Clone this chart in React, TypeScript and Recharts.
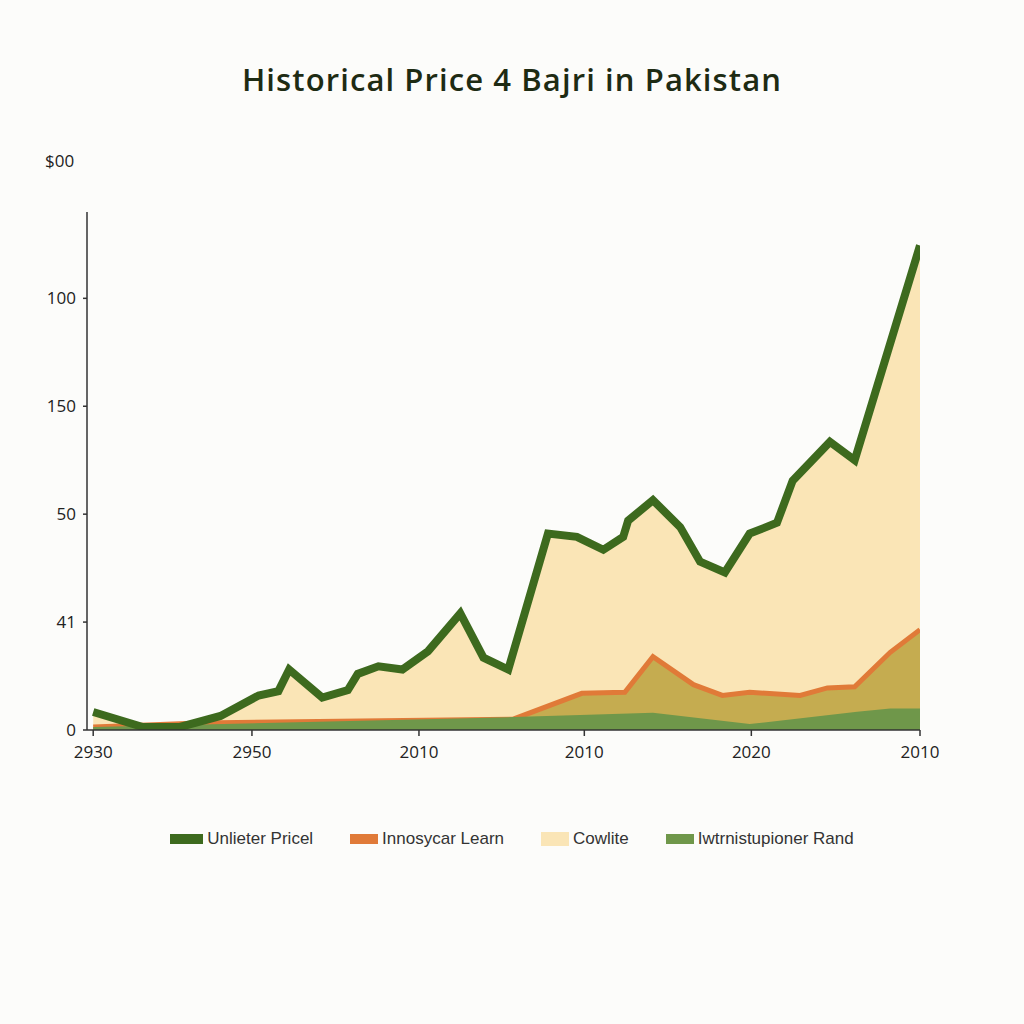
import React from "react";
import { ComposedChart, Area, Line, XAxis, YAxis } from "recharts";

// x positions are on a 0..100 scale across the plot
const priceX = [0, 6, 10.5, 15.4, 20, 22.4, 23.7, 27.7, 30.8, 32, 34.5, 37.4, 40.5, 44.4, 47.2, 50.2, 55, 58.5, 61.7, 64.1, 64.7, 67.7, 71, 73.4, 76.4, 79.4, 82.7, 84.6, 89.1, 92.1, 100];
const price = [16.7, 2.8, 2.8, 13, 32, 36, 56, 30, 37, 52, 59, 56, 73, 108, 67, 56, 182, 179, 167, 179, 194, 213, 188, 156, 146, 182, 192, 231, 267, 250, 449];

const learnX = [0, 12.9, 50.8, 59.1, 64.3, 67.7, 72.6, 76.1, 79.4, 85.5, 88.8, 92.1, 96.4, 100];
const learn = [2.8, 6.5, 10, 34, 35, 68, 42, 32, 35, 32, 39, 40, 72, 93];

const randX = [0, 50.8, 58.9, 67.7, 79.4, 92.4, 96.4, 100];
const rand = [2.8, 12, 14, 16, 5.5, 17, 20, 20];

const xTicks = [0, 19.2, 39.4, 59.4, 79.6, 100];
const xTickLabels = ["2930", "2950", "2010", "2010", "2020", "2010"];

const yTicks = [0, 100, 200, 300, 400];
const yTickLabels = ["0", "41", "50", "150", "100"];

const seriesNames = ["Unlieter Pricel", "Innosycar Learn", "Cowlite", "Iwtrnistupioner Rand"];
const seriesColors = ["#3d6a1e", "#e07a38", "#fae5b6", "#6f974a"];

const OLIVE = "#c5ac50";

function buildRows() {
  const map = new Map<number, any>();
  const put = (xs: number[], vs: number[], key: string) => {
    xs.forEach((x, i) => {
      const row = map.get(x) || { x };
      row[key] = vs[i];
      map.set(x, row);
    });
  };
  put(priceX, price, "price");
  put(learnX, learn, "learn");
  put(randX, rand, "rand");
  return Array.from(map.values()).sort((a, b) => a.x - b.x);
}

const rows = buildRows();

const axisFont = { fontFamily: "'Open Sans', sans-serif", fontSize: 17, fill: "#222" };

export default function App() {
  return (
    <div
      style={{
        position: "absolute",
        left: 0,
        top: 0,
        width: 1024,
        height: 1024,
        background: "#fcfcfa",
        fontFamily: "'Open Sans', sans-serif",
      }}
    >
      <div
        style={{
          position: "absolute",
          top: 58,
          left: 0,
          width: 1024,
          textAlign: "center",
          fontSize: 31,
          fontWeight: 600,
          letterSpacing: 1.1,
          color: "#1e2b13",
        }}
      >
        Historical Price 4 Bajri in Pakistan
      </div>
      <div style={{ position: "absolute", top: 149, left: 45, fontSize: 17, color: "#222" }}>$00</div>

      <ComposedChart
        width={1024}
        height={1024}
        data={rows}
        margin={{ top: 212, right: 104, bottom: 264, left: 0 }}
      >
        <XAxis
          dataKey="x"
          type="number"
          domain={[-0.75, 100]}
          ticks={xTicks}
          tickFormatter={(v) => xTickLabels[xTicks.indexOf(v)]}
          tick={axisFont}
          tickSize={6}
          tickMargin={10}
          height={30}
          stroke="#333"
          strokeWidth={1.5}
          allowDataOverflow
        />
        <YAxis
          type="number"
          domain={[0, 480]}
          ticks={yTicks}
          tickFormatter={(v) => yTickLabels[yTicks.indexOf(v)]}
          tick={axisFont}
          tickSize={4}
          tickMargin={7}
          width={87}
          stroke="#333"
          strokeWidth={1.5}
          allowDataOverflow
        />
        <Area
          type="linear"
          dataKey="price"
          name={seriesNames[2]}
          stroke="none"
          fill={seriesColors[2]}
          fillOpacity={1}
          connectNulls
          isAnimationActive={false}
          dot={false}
          activeDot={false}
        />
        <Area
          type="linear"
          dataKey="learn"
          name={seriesNames[1]}
          stroke={seriesColors[1]}
          strokeWidth={5}
          fill={OLIVE}
          fillOpacity={1}
          connectNulls
          isAnimationActive={false}
          dot={false}
          activeDot={false}
        />
        <Area
          type="linear"
          dataKey="rand"
          name={seriesNames[3]}
          stroke="none"
          fill={seriesColors[3]}
          fillOpacity={1}
          connectNulls
          isAnimationActive={false}
          dot={false}
          activeDot={false}
        />
        <Line
          type="linear"
          dataKey="price"
          name={seriesNames[0]}
          stroke={seriesColors[0]}
          strokeWidth={8}
          strokeLinejoin="miter"
          connectNulls
          isAnimationActive={false}
          dot={false}
          activeDot={false}
        />
      </ComposedChart>

      <div
        style={{
          position: "absolute",
          top: 829,
          left: 0,
          width: 1024,
          display: "flex",
          justifyContent: "center",
          gap: 37,
          fontFamily: "'Liberation Sans Narrow', 'Arial Narrow', sans-serif",
          fontSize: 17,
          color: "#333",
        }}
      >
        {seriesNames.map((n, i) => (
          <div key={n} style={{ display: "flex", alignItems: "center", gap: 4 }}>
            <span
              style={{
                display: "inline-block",
                width: i === 0 ? 33 : 28,
                height: i === 2 ? 14 : 10,
                background: seriesColors[i],
              }}
            />
            <span>{n}</span>
          </div>
        ))}
      </div>
    </div>
  );
}
